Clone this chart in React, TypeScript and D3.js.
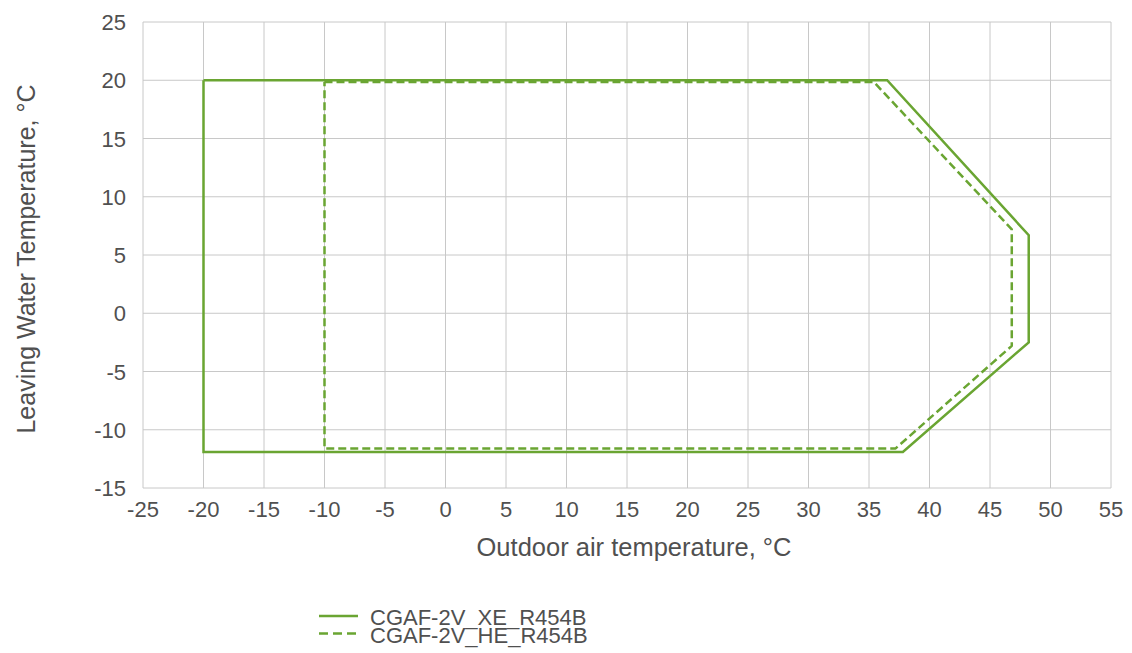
import React from "react";
import * as d3 from "d3";

const xTicks = [-25, -20, -15, -10, -5, 0, 5, 10, 15, 20, 25, 30, 35, 40, 45, 50, 55];
const yTicks = [-15, -10, -5, 0, 5, 10, 15, 20, 25];

const xeSeries: [number, number][] = [
  [-20, 20], [36.5, 20], [48.2, 6.7], [48.2, -2.5], [37.8, -11.9], [-20, -11.9], [-20, 20],
];
const heSeries: [number, number][] = [
  [-10, 19.85], [35.4, 19.85], [46.8, 7.2], [46.8, -2.8], [37.2, -11.6], [-10, -11.6], [-10, 19.85],
];

const seriesNames = ["CGAF-2V_XE_R454B", "CGAF-2V_HE_R454B"];

const green = "#6aa532";
const textColor = "#505050";
const gridColor = "#c8c8c8";
const font = "'Liberation Sans', Arial, sans-serif";

const App = () => {
  const width = 1132;
  const height = 653;
  const margin = { top: 22, right: 21, bottom: 165, left: 143 };

  const x = d3.scaleLinear().domain([-25, 55]).range([margin.left, width - margin.right]);
  const y = d3.scaleLinear().domain([-15, 25]).range([height - margin.bottom, margin.top]);

  const line = d3
    .line<[number, number]>()
    .x(d => x(d[0]))
    .y(d => y(d[1]));

  return (
    <svg width={width} height={height} style={{ position: "absolute", left: 0, top: 0 }}>
      <rect width={width} height={height} fill="#fff" />
      {xTicks.map(t => (
        <line key={"gx" + t} x1={x(t)} x2={x(t)} y1={y(25)} y2={y(-15)} stroke={gridColor} strokeWidth={1} />
      ))}
      {yTicks.map(t => (
        <line key={"gy" + t} x1={x(-25)} x2={x(55)} y1={y(t)} y2={y(t)} stroke={gridColor} strokeWidth={1} />
      ))}
      <path d={line(heSeries) || ""} fill="none" stroke={green} strokeWidth={2.5} strokeDasharray="8,4" strokeLinejoin="round" />
      <path d={line(xeSeries) || ""} fill="none" stroke={green} strokeWidth={2.5} />

      {xTicks.map(t => (
        <text key={"tx" + t} x={x(t)} y={y(-15) + 29} textAnchor="middle" fontFamily={font} fontSize={22} fill={textColor}>
          {t}
        </text>
      ))}
      {yTicks.map(t => (
        <text key={"ty" + t} x={126} y={y(t) + 8} textAnchor="end" fontFamily={font} fontSize={22} fill={textColor}>
          {t}
        </text>
      ))}

      <text x={634} y={556} textAnchor="middle" fontFamily={font} fontSize={25.5} fill={textColor}>
        Outdoor air temperature, °C
      </text>
      <text
        transform={`translate(35,259) rotate(-90)`}
        textAnchor="middle"
        fontFamily={font}
        fontSize={25}
        fill={textColor}
      >
        Leaving Water Temperature, °C
      </text>

      {seriesNames.map((name, i) => (
        <g key={name} transform={`translate(319,${616 + i * 17.5})`}>
          <line x1={0} x2={39} y1={0} y2={0} stroke={green} strokeWidth={2.5} strokeDasharray={i === 1 ? "9,5" : undefined} />
          <text x={51} y={9} fontFamily={font} fontSize={22} fill={textColor}>
            {name}
          </text>
        </g>
      ))}
    </svg>
  );
};

export default App;
